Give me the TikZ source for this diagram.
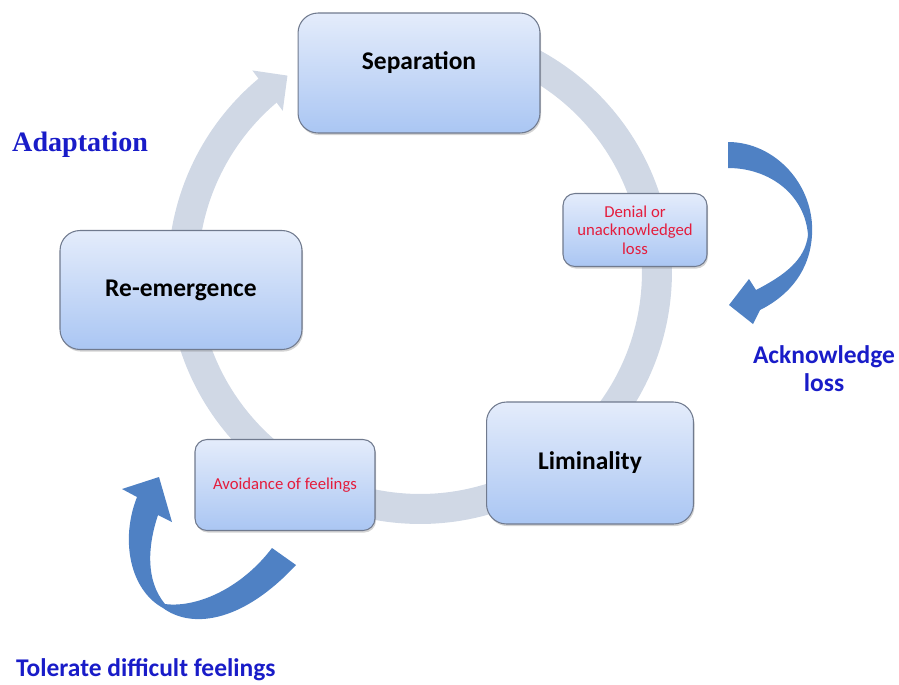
\documentclass[tikz,border=0pt]{standalone}
\usepackage{fontspec}
\setmainfont{Carlito}
\newfontfamily\serifbold{Liberation Serif}
\usetikzlibrary{arrows.meta,bending,shadows}

\definecolor{ringgray}{RGB}{208,216,229}
\definecolor{boxtop}{RGB}{228,236,251}
\definecolor{boxbottom}{RGB}{170,198,243}
\definecolor{boxline}{RGB}{112,122,142}
\definecolor{arrowblue}{RGB}{79,129,196}
\definecolor{labelblue}{RGB}{25,28,200}
\definecolor{notered}{RGB}{228,28,60}

\tikzset{
  stagebox/.style={draw=boxline, line width=0.6pt, rounded corners=0.4cm,
    top color=boxtop, bottom color=boxbottom,
    drop shadow={opacity=0.35, shadow xshift=0.6pt, shadow yshift=-1.2pt},
    font=\bfseries\fontsize{14.5}{17}\selectfont, align=center},
  notebox/.style={stagebox, rounded corners=0.24cm, text=notered,
    font=\fontsize{9.5}{10.5}\selectfont},
  sidelabel/.style={text=labelblue, font=\bfseries\fontsize{14.5}{16}\selectfont, align=center},
  bluearrow/.style={fill=arrowblue, draw=none}
}

\begin{document}
\begin{tikzpicture}[x=0.02cm, y=-0.02cm]
\useasboundingbox (0,0) rectangle (899,684);

%% cycle ring
\coordinate (c) at (420,272);
\draw[ringgray, line width=0.6cm, -{Triangle[length=0.5cm, width=0.98cm]}]
  (c) ++(85:4.74cm) arc[start angle=85, end angle=-236, radius=4.74cm];

%% stages
\node[stagebox, minimum width=4.84cm, minimum height=2.4cm, text depth=0.5cm] (sep) at (419,73) {Separation};
\node[notebox, minimum width=2.88cm, minimum height=1.46cm] (denial) at (635,230) {Denial or\\unacknowledged\\loss};
\node[stagebox, minimum width=4.14cm, minimum height=2.44cm] (lim) at (590,463) {Liminality};
\node[notebox, minimum width=3.6cm, minimum height=1.82cm] (avoid) at (285,485) {Avoidance of feelings};
\node[stagebox, minimum width=4.84cm, minimum height=2.38cm] (reem) at (181,290) {Re-emergence};

%% curved blue arrows
\fill[bluearrow] (728,142) .. controls (775,142) and (815,185) .. (812,235)
  .. controls (810,270) and (790,295) .. (760,310)
  -- (753,324) -- (729,305) -- (749,279) -- (756,290)
  .. controls (785,275) and (805,260) .. (808,235)
  .. controls (805,195) and (770,168) .. (728,168) -- cycle;
\fill[bluearrow] (137,497) .. controls (120,540) and (130,590) .. (163,608)
  .. controls (190,628) and (240,625) .. (296,565)
  -- (272,548)
  .. controls (240,590) and (195,608) .. (165,604)
  .. controls (145,580) and (148,545) .. (158,515)
  -- (172,522) -- (159,477) -- (122,489) -- cycle;

%% labels
\node[sidelabel, font=\serifbold\bfseries\fontsize{16}{18}\selectfont, anchor=west] (adapt) at (6,145) {Adaptation};
\node[sidelabel] (ack) at (824,369) {Acknowledge\\loss};
\node[sidelabel, anchor=west] (tolerate) at (10,670) {Tolerate difficult feelings};

\end{tikzpicture}
\end{document}
